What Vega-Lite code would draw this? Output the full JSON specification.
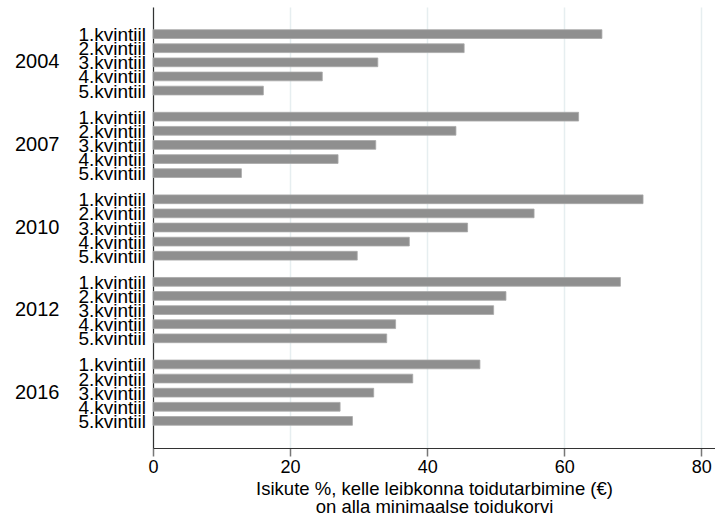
{
  "$schema": "https://vega.github.io/schema/vega-lite/v6.json",
  "autosize": "none",
  "padding": {"left": 153, "top": 7, "right": 0, "bottom": 69},
  "width": 562,
  "height": 441,
  "config": {
    "font": "Liberation Sans",
    "view": {"stroke": null}
  },
  "data": {
    "values": [
      {"year": "2004", "q": "1.kvintiil", "value": 65.5},
      {"year": "2004", "q": "2.kvintiil", "value": 45.4},
      {"year": "2004", "q": "3.kvintiil", "value": 32.8},
      {"year": "2004", "q": "4.kvintiil", "value": 24.7},
      {"year": "2004", "q": "5.kvintiil", "value": 16.1},
      {"year": "2007", "q": "1.kvintiil", "value": 62.1},
      {"year": "2007", "q": "2.kvintiil", "value": 44.2},
      {"year": "2007", "q": "3.kvintiil", "value": 32.5},
      {"year": "2007", "q": "4.kvintiil", "value": 27.0},
      {"year": "2007", "q": "5.kvintiil", "value": 12.9},
      {"year": "2010", "q": "1.kvintiil", "value": 71.5},
      {"year": "2010", "q": "2.kvintiil", "value": 55.6},
      {"year": "2010", "q": "3.kvintiil", "value": 45.9},
      {"year": "2010", "q": "4.kvintiil", "value": 37.4},
      {"year": "2010", "q": "5.kvintiil", "value": 29.8},
      {"year": "2012", "q": "1.kvintiil", "value": 68.2},
      {"year": "2012", "q": "2.kvintiil", "value": 51.5},
      {"year": "2012", "q": "3.kvintiil", "value": 49.7},
      {"year": "2012", "q": "4.kvintiil", "value": 35.4},
      {"year": "2012", "q": "5.kvintiil", "value": 34.1},
      {"year": "2016", "q": "1.kvintiil", "value": 47.7},
      {"year": "2016", "q": "2.kvintiil", "value": 37.9},
      {"year": "2016", "q": "3.kvintiil", "value": 32.2},
      {"year": "2016", "q": "4.kvintiil", "value": 27.3},
      {"year": "2016", "q": "5.kvintiil", "value": 29.1}
    ]
  },
  "encoding": {
    "y": {
      "field": "year",
      "type": "nominal",
      "sort": null,
      "scale": {"paddingInner": 0, "paddingOuter": 0.17},
      "axis": {
        "title": null,
        "ticks": false,
        "labelPadding": 94,
        "labelFontSize": 20,
        "labelColor": "#000000",
        "labelAlign": "right",
        "domainColor": "#333333",
        "domainWidth": 1.2,
        "grid": false
      }
    },
    "yOffset": {
      "field": "q",
      "type": "nominal",
      "sort": null,
      "scale": {"paddingInner": 0.38, "paddingOuter": 0.615}
    }
  },
  "layer": [
    {
      "mark": {"type": "bar", "color": "#8f8f8f", "stroke": "#a8a8a8", "strokeWidth": 0.8},
      "encoding": {
        "x": {
          "field": "value",
          "type": "quantitative",
          "scale": {"domain": [0, 82], "nice": false, "zero": true},
          "axis": {
            "values": [0, 20, 40, 60, 80],
            "grid": true,
            "gridColor": "#e6eef0",
            "gridWidth": 1.5,
            "tickColor": "#777777",
            "tickSize": 8,
            "tickWidth": 1.5,
            "domainColor": "#333333",
            "domainWidth": 1.2,
            "labelFontSize": 18,
            "labelColor": "#000000",
            "labelPadding": 2,
            "labelFlush": false,
            "title": ["Isikute %, kelle leibkonna toidutarbimine (€)", "on alla minimaalse toidukorvi"],
            "titleFontSize": 18.5,
            "titleFontWeight": "normal",
            "titleColor": "#000000",
            "titlePadding": 3,
            "titleLineHeight": 18
          }
        }
      }
    },
    {
      "mark": {"type": "text", "align": "right", "baseline": "middle", "dx": -7, "dy": 1, "fontSize": 19, "color": "#000000"},
      "encoding": {
        "x": {"datum": 0, "type": "quantitative"},
        "text": {"field": "q", "type": "nominal"}
      }
    }
  ]
}
